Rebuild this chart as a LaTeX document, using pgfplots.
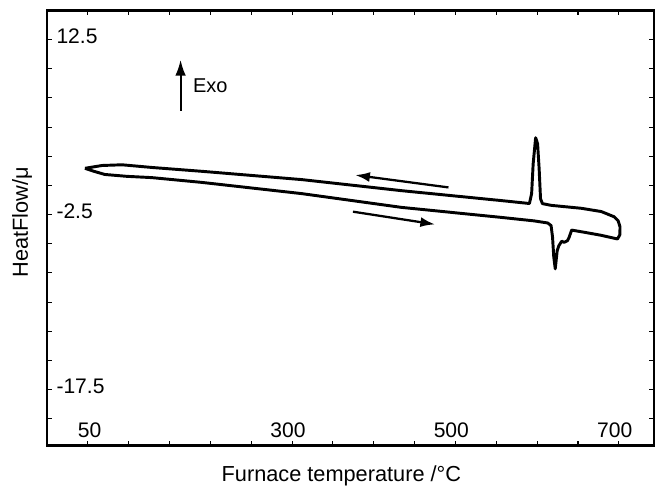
\documentclass[border=0pt]{standalone}
\usepackage{fontspec}
\setmainfont{Liberation Sans}
\usepackage{pgfplots}
\usepackage{pgfplotstable}
\pgfplotsset{compat=1.18}
\usetikzlibrary{arrows.meta}

% DSC loop: heating (lower) branch left->right, then cooling (upper) branch right->left
\pgfplotstableread{
x y
46.5 1.47
57.5 1.21
70.8 0.94
97.7 0.78
128.3 0.67
189.5 0.26
311.6 -0.70
433.7 -1.88
555.9 -2.74
596.3 -3.04
612.9 -3.22
617.0 -3.44
618.8 -4.43
620.3 -6.14
622.1 -7.15
624.5 -5.59
626.6 -5.16
630.1 -4.78
632.9 -4.88
637.0 -4.74
639.1 -4.45
642.2 -3.83
657.2 -4.01
677.9 -4.27
698.3 -4.59
701.2 -4.23
701.4 -3.55
699.1 -3.03
694.3 -2.69
678.5 -2.24
654.0 -1.96
617.4 -1.71
606.4 -1.56
604.1 -1.14
602.4 1.43
600.5 3.58
598.1 4.09
595.1 1.87
593.2 -0.70
590.5 -1.55
556.3 -1.30
434.1 -0.45
311.9 0.50
189.7 1.21
128.5 1.54
91.9 1.77
67.4 1.71
46.5 1.47
}\loopdata

\begin{document}
\begin{tikzpicture}
\begin{axis}[
  scale only axis,
  width=455.25pt, height=326.25pt,
  xmin=0, xmax=743, ymin=-22.3, ymax=15,
  axis line style={line width=1.6pt},
  xtick={50,100,...,700},
  xticklabels={50,{},{},{},{},300,{},{},{},500,{},{},{},700},
  ytick={-20,-17.5,-15,-12.5,-10,-7.5,-5,-2.5,0,2.5,5,7.5,10,12.5},
  yticklabels={{},-17.5,{},{},{},{},{},-2.5,{},{},{},{},{},12.5},
  tick align=inside,
  major tick length=3.75pt,
  tick style={line width=0.8pt, black},
  tick label style={font=\fontsize{15.8}{18}\selectfont},
  xticklabel style={anchor=south east, xshift=13.6pt, yshift=2.6pt},
  yticklabel style={anchor=west, xshift=3.6pt, yshift=2.25pt},
  xlabel={Furnace temperature /°C},
  ylabel={HeatFlow/μ},
  label style={font=\fontsize{16.3}{19}\selectfont},
  xlabel style={at={(axis description cs:0.485,-0.036)}, anchor=north},
  ylabel style={at={(axis description cs:-0.0169,0.513)}, anchor=south},
  clip=false,
]
\addplot[black, line width=2.2pt, line join=round] table[x=x,y=y] {\loopdata};
\draw[line width=1.6pt, -{Latex[length=12pt,width=8pt]}] (axis cs:163.5,6.41) -- (axis cs:163.5,10.78);
\node[anchor=west, inner sep=0pt, font=\fontsize{15}{17}\selectfont] at (axis cs:178.5,8.58) {Exo};
\draw[line width=1.7pt, -{Latex[length=11pt,width=7.5pt]}] (axis cs:491.4,-0.17) -- (axis cs:377.3,0.89);
\draw[line width=1.7pt, -{Latex[length=11pt,width=7.5pt]}] (axis cs:374.5,-2.25) -- (axis cs:475.0,-3.34);
\end{axis}
\pgfresetboundingbox
\path[use as bounding box] ([xshift=-35.25pt,yshift=-36.375pt]current axis.south west) rectangle ([xshift=3.75pt,yshift=7.875pt]current axis.north east);
\end{tikzpicture}
\end{document}
